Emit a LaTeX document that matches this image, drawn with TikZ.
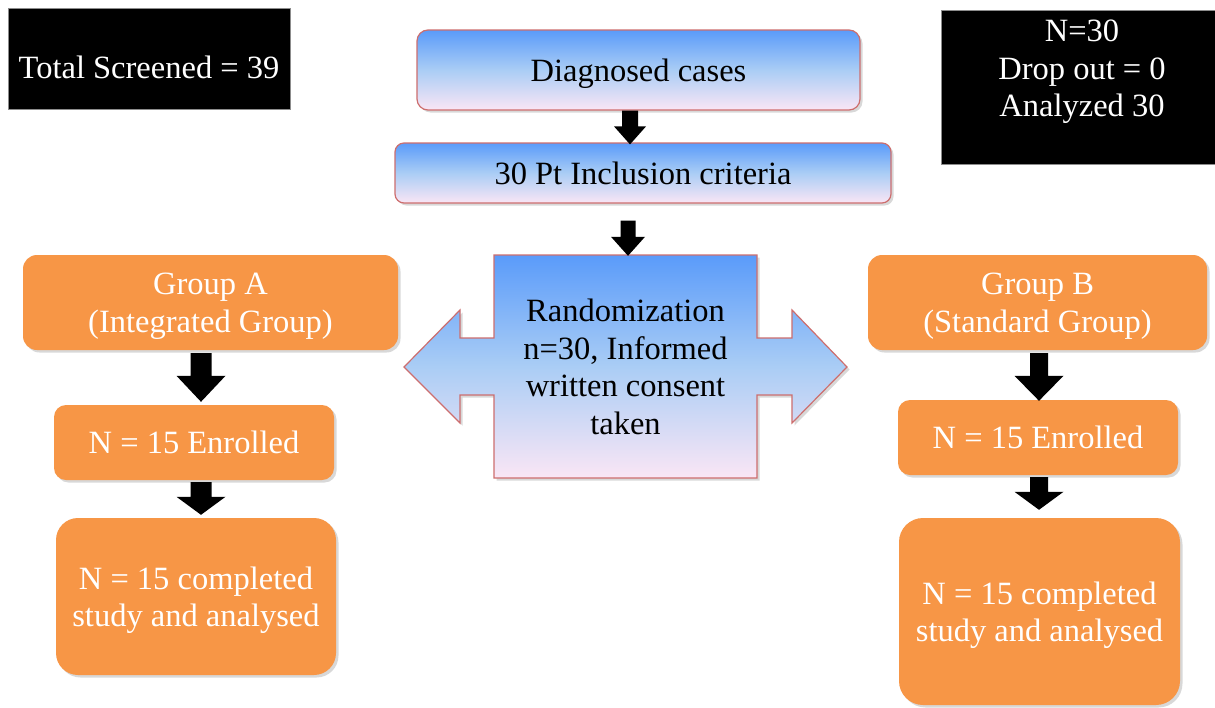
\documentclass[tikz,border=0pt]{standalone}
\usepackage{fontspec}
\setmainfont{Liberation Serif}
\usetikzlibrary{calc,shadows,backgrounds}
\definecolor{gtop}{RGB}{90,155,250}
\definecolor{gmid}{RGB}{170,205,245}
\definecolor{gbot}{RGB}{250,230,245}
\definecolor{rborder}{RGB}{205,110,110}
\definecolor{orangebox}{RGB}{247,150,70}
\tikzset{
  txt/.style={font=\fontsize{32.5}{37.5}\selectfont, align=center, inner sep=0pt, text depth=0pt},
  shade/.style={drop shadow={shadow xshift=2.5pt, shadow yshift=-2.5pt, opacity=0.3}},
  bluebox/.style={txt, shade, draw=rborder, line width=1.2pt, top color=gtop, bottom color=gbot, middle color=gmid, rounded corners=11pt},
  orangebox/.style={txt, shade, fill=orangebox, text=white, rounded corners=14pt},
  blackbox/.style={fill=black, draw=black!45, line width=0.8pt, inner sep=0pt},
  whitetxt/.style={txt, text=white},
}
\newcommand\blockdown[5]{%
  \fill[black] let \p1=#1, \p2=#2 in
   ({\x1-#3pt},{\y1}) -- ({\x1+#3pt},{\y1}) -- ({\x1+#3pt},{\y2+#5pt}) -- ({\x1+#4pt},{\y2+#5pt})
   -- (\x1,\y2) -- ({\x1-#4pt},{\y2+#5pt}) -- ({\x1-#3pt},{\y2+#5pt}) -- cycle;}
\begin{document}
\begin{tikzpicture}[x=1pt,y=1pt]
\useasboundingbox[fill=white] (0,0) rectangle (1215,-707);

% black info boxes
\node[blackbox, minimum width=282pt, minimum height=101pt] (screen) at (149,-58.5) {};
\node[whitetxt] (screentxt) at (149,-67) {Total Screened = 39};
\node[blackbox, minimum width=274pt, minimum height=154pt] (summary) at (1078,-87) {};
\node[whitetxt] (summarytxt) at (1082,-68.5) {N=30\\Drop out = 0\\Analyzed 30};

% blue boxes
\node[bluebox, minimum width=443pt, minimum height=80pt] (diag) at (638.5,-70) {Diagnosed cases};
\node[bluebox, minimum width=496pt, minimum height=60pt, rounded corners=9pt] (incl) at (643,-173) {30 Pt Inclusion criteria};

% randomization double arrow
\path[shade, draw=rborder, line width=1.2pt, top color=gtop, bottom color=gbot, middle color=gmid]
  (494,-255) -- (757,-255) -- (757,-338) -- (792,-338) -- (792,-310) -- (847,-367)
  -- (792,-423) -- (792,-395) -- (757,-395) -- (757,-478) -- (494,-478) -- (494,-395)
  -- (460,-395) -- (460,-423) -- (404,-367) -- (460,-310) -- (460,-338) -- (494,-338) -- cycle;
\node[txt, minimum width=263pt, minimum height=223pt] (rand) at (625.5,-366.5)
  {Randomization\\n=30, Informed\\written consent\\taken};

% orange boxes
\node[orangebox, minimum width=375pt, minimum height=95pt] (grpA) at (210.5,-302.5) {Group A\\(Integrated Group)};
\node[orangebox, minimum width=280pt, minimum height=75pt, rounded corners=12pt] (enrA) at (194,-442.5) {N = 15 Enrolled};
\node[orangebox, minimum width=280pt, minimum height=157pt, rounded corners=22pt] (compA) at (196,-596.5) {N = 15 completed\\study and analysed};

\node[orangebox, minimum width=339pt, minimum height=95pt] (grpB) at (1037.5,-302.5) {Group B\\(Standard Group)};
\node[orangebox, minimum width=280pt, minimum height=75pt, rounded corners=12pt] (enrB) at (1038,-437.5) {N = 15 Enrolled};
\node[orangebox, minimum width=281pt, minimum height=187pt, rounded corners=24pt] (compB) at (1039.5,-611.5) {N = 15 completed\\study and analysed};

% block arrows
\blockdown{(diag.south -| 630,0)}{($(incl.north -| 630,0)+(0,-2)$)}{8}{16}{18}
\blockdown{($(incl.south -| 628,0)+(0,-17)$)}{($(rand.north -| 628,0)+(0,-1)$)}{7.5}{17}{19}
\blockdown{($(grpA.south -| 201,0)+(0,-3)$)}{($(enrA.north -| 201,0)+(0,3)$)}{10.5}{24.5}{26}
\blockdown{($(enrA.south -| 201,0)+(0,-2)$)}{($(compA.north -| 201,0)+(0,3)$)}{10.5}{24.5}{18}
\blockdown{($(grpB.south -| 1039,0)+(0,-3)$)}{($(enrB.north -| 1039,0)+(0,-1)$)}{9}{24.5}{25}
\blockdown{($(enrB.south -| 1039,0)+(0,-2)$)}{($(compB.north -| 1039,0)+(0,8)$)}{9}{24.5}{18}
\end{tikzpicture}
\end{document}
